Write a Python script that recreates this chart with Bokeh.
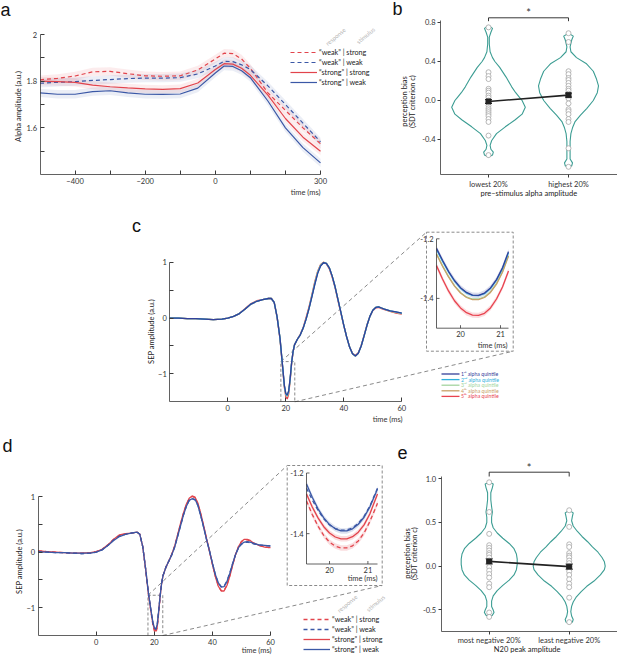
import math
from bokeh.plotting import figure
from bokeh.models import (Range1d, LinearAxis, FixedTicker, Label, Legend, LegendItem,
                          Whisker, TeeHead, ColumnDataSource)
from bokeh.layouts import column, row
from bokeh.core.properties import value
from bokeh.embed import file_html
from bokeh.resources import INLINE

# ======================= DATA =======================
# (a) alpha amplitude time courses
a_time = [-500, -450, -400, -350, -300, -250, -200, -150, -100, -50, 0, 25, 50, 75, 100, 150, 200, 250, 300]
a_weak_strong   = [1.806, 1.812, 1.822, 1.840, 1.842, 1.832, 1.823, 1.821, 1.823, 1.848, 1.895, 1.920, 1.918, 1.895, 1.855, 1.750, 1.675, 1.600, 1.532]
a_weak_weak     = [1.791, 1.795, 1.798, 1.803, 1.807, 1.811, 1.813, 1.813, 1.815, 1.831, 1.865, 1.885, 1.884, 1.870, 1.850, 1.780, 1.700, 1.620, 1.540]
a_strong_strong = [1.800, 1.798, 1.795, 1.783, 1.776, 1.771, 1.767, 1.765, 1.768, 1.792, 1.850, 1.875, 1.873, 1.855, 1.825, 1.740, 1.640, 1.560, 1.500]
a_strong_weak   = [1.750, 1.744, 1.744, 1.755, 1.759, 1.750, 1.744, 1.743, 1.745, 1.770, 1.835, 1.865, 1.863, 1.845, 1.815, 1.715, 1.600, 1.515, 1.450]
a_sem = 0.018
a_xticks = [-400, -200, 0, 300]
a_xminor = [-300, -100, 100, 200]
a_yticks = [1.6, 1.8, 2.0]
a_ytick_labels = ["1.6", "1.8", "2"]
a_yminor = [1.5, 1.7, 1.9]
legend_labels = ["\u201cweak\u201d | strong", "\u201cweak\u201d | weak", "\u201cstrong\u201d | strong", "\u201cstrong\u201d | weak"]

# (b) perception bias by pre-stimulus alpha
b_categories = ["lowest 20%", "highest 20%"]
b_low_points = [0.75, 0.29, 0.25, 0.22, 0.12, 0.10, 0.08, 0.05, 0.03, 0.0, -0.05, -0.08, -0.10, -0.12, -0.14, -0.16, -0.19, -0.22, -0.36, -0.56]
b_high_points = [0.69, 0.60, 0.30, 0.27, 0.23, 0.21, 0.18, 0.15, 0.12, 0.10, 0.07, 0.04, 0.02, -0.03, -0.09, -0.11, -0.14, -0.19, -0.22, -0.49, -0.68]
b_means = [-0.01, 0.055]
b_err = [0.02, 0.02]
b_vlow_y = [-0.58, -0.56, -0.53, -0.50, -0.46, -0.41, -0.34, -0.27, -0.20, -0.14, -0.07, 0.0, 0.03, 0.08, 0.14, 0.24, 0.34, 0.40, 0.44, 0.50, 0.58, 0.65, 0.70, 0.74, 0.77]
b_vlow_w = [0.0, 0.05, 0.06, 0.03, 0.02, 0.04, 0.10, 0.21, 0.33, 0.42, 0.46, 0.42, 0.39, 0.34, 0.29, 0.22, 0.14, 0.08, 0.05, 0.02, 0.01, 0.01, 0.03, 0.05, 0.0]
b_vhigh_y = [-0.69, -0.67, -0.64, -0.60, -0.52, -0.42, -0.34, -0.28, -0.22, -0.15, -0.08, 0.0, 0.08, 0.15, 0.22, 0.30, 0.38, 0.44, 0.50, 0.55, 0.62, 0.66, 0.69]
b_vhigh_w = [0.0, 0.04, 0.05, 0.02, 0.02, 0.02, 0.03, 0.05, 0.08, 0.15, 0.23, 0.31, 0.36, 0.375, 0.35, 0.31, 0.22, 0.10, 0.03, 0.02, 0.04, 0.06, 0.0]
b_yticks = [-0.4, 0.0, 0.4, 0.8]
b_ytick_labels = ["-0.4", "0.0", "0.4", "0.8"]

# (c) SEP by alpha quintile
sep_time = [-20, -17, -14, -11, -8, -5, -2, 0, 2, 4, 6, 8, 10, 12, 14, 15, 16, 17, 18, 19,
            19.5, 20, 20.5, 21, 21.5, 22, 22.5, 23, 24, 25, 26, 27, 28, 29, 30, 31, 32, 33, 34, 35,
            36, 37, 38, 39, 40, 41, 42, 43, 44, 45, 46, 47, 48, 49, 50, 51, 52, 53, 54, 56, 58, 60]
c_q1 = [0.00, 0.00, -0.01, -0.01, -0.02, -0.03, -0.02, 0.00, 0.03, 0.08, 0.16, 0.25, 0.30, 0.33, 0.35, 0.35, 0.28, 0.02, -0.36, -0.92,
        -1.20, -1.35, -1.38, -1.30, -1.08, -0.80, -0.60, -0.48, -0.38, -0.30, -0.18, -0.02, 0.17, 0.38, 0.60, 0.80, 0.93, 0.99, 0.98, 0.90,
        0.75, 0.56, 0.33, 0.10, -0.13, -0.34, -0.52, -0.64, -0.68, -0.63, -0.50, -0.32, -0.13, 0.03, 0.14, 0.19, 0.20, 0.18, 0.16, 0.13, 0.11, 0.09]
c_q2 = [0.00, 0.00, -0.01, -0.01, -0.02, -0.03, -0.02, 0.00, 0.03, 0.08, 0.16, 0.25, 0.30, 0.33, 0.35, 0.35, 0.28, 0.02, -0.36, -0.92,
        -1.21, -1.36, -1.39, -1.31, -1.09, -0.80, -0.60, -0.48, -0.38, -0.30, -0.18, -0.02, 0.17, 0.39, 0.61, 0.81, 0.94, 0.99, 0.98, 0.90,
        0.75, 0.56, 0.33, 0.10, -0.13, -0.34, -0.52, -0.64, -0.68, -0.63, -0.50, -0.32, -0.13, 0.03, 0.14, 0.19, 0.20, 0.18, 0.16, 0.13, 0.11, 0.09]
c_q3 = [0.00, 0.00, -0.01, -0.01, -0.02, -0.03, -0.02, 0.00, 0.03, 0.08, 0.16, 0.25, 0.30, 0.33, 0.35, 0.35, 0.28, 0.02, -0.36, -0.93,
        -1.22, -1.37, -1.40, -1.32, -1.10, -0.81, -0.60, -0.48, -0.38, -0.30, -0.18, -0.02, 0.17, 0.39, 0.62, 0.82, 0.94, 0.99, 0.98, 0.90,
        0.75, 0.56, 0.33, 0.10, -0.13, -0.34, -0.52, -0.64, -0.68, -0.63, -0.50, -0.32, -0.13, 0.03, 0.14, 0.19, 0.20, 0.18, 0.16, 0.13, 0.10, 0.08]
c_q4 = [0.00, 0.00, -0.01, -0.01, -0.02, -0.03, -0.02, 0.00, 0.03, 0.08, 0.16, 0.25, 0.30, 0.33, 0.35, 0.35, 0.28, 0.02, -0.36, -0.93,
        -1.22, -1.37, -1.40, -1.32, -1.10, -0.81, -0.60, -0.48, -0.38, -0.30, -0.18, -0.01, 0.18, 0.40, 0.63, 0.83, 0.95, 1.00, 0.98, 0.90,
        0.75, 0.56, 0.33, 0.10, -0.13, -0.34, -0.52, -0.64, -0.68, -0.63, -0.50, -0.32, -0.13, 0.03, 0.14, 0.19, 0.20, 0.18, 0.16, 0.12, 0.10, 0.08]
c_q5 = [0.00, 0.00, -0.01, -0.01, -0.02, -0.03, -0.02, 0.00, 0.03, 0.08, 0.17, 0.26, 0.31, 0.33, 0.35, 0.35, 0.28, 0.01, -0.38, -0.95,
        -1.24, -1.41, -1.45, -1.36, -1.12, -0.82, -0.61, -0.48, -0.38, -0.29, -0.17, 0.01, 0.20, 0.42, 0.65, 0.84, 0.96, 1.00, 0.97, 0.88,
        0.73, 0.54, 0.31, 0.09, -0.14, -0.34, -0.52, -0.63, -0.67, -0.62, -0.49, -0.31, -0.12, 0.03, 0.13, 0.18, 0.19, 0.17, 0.15, 0.12, 0.09, 0.07]
c_labels = ["1\u02e2\u1d57 alpha quintile", "2\u207f\u1d48 alpha quintile", "3\u02b3\u1d48 alpha quintile",
            "4\u1d57\u02b0 alpha quintile", "5\u1d57\u02b0 alpha quintile"]
c_inset_time = [19.4, 19.55, 19.7, 19.85, 20.0, 20.15, 20.3, 20.45, 20.6, 20.75, 20.9, 21.05, 21.2]
c_in_q1 = [-1.232, -1.272, -1.309, -1.340, -1.364, -1.380, -1.389, -1.390, -1.382, -1.365, -1.337, -1.297, -1.243]
c_in_q2 = [-1.236, -1.275, -1.311, -1.342, -1.366, -1.382, -1.390, -1.391, -1.384, -1.367, -1.339, -1.300, -1.247]
c_in_q3 = [-1.250, -1.290, -1.326, -1.357, -1.380, -1.395, -1.402, -1.402, -1.395, -1.378, -1.350, -1.310, -1.256]
c_in_q4 = [-1.252, -1.292, -1.328, -1.359, -1.382, -1.397, -1.404, -1.404, -1.397, -1.380, -1.352, -1.312, -1.258]
c_in_q5 = [-1.290, -1.335, -1.375, -1.408, -1.432, -1.448, -1.456, -1.457, -1.450, -1.432, -1.402, -1.362, -1.308]
inset_sem = 0.009
sep_yticks = [-1, 0, 1]
sep_yminor = [-0.5, 0.5]
sep_xticks = [0, 20, 40, 60]
inset_yticks = [-1.2, -1.4]
inset_xticks = [20, 21]
c_zoom_window = [18.3, 23.1, -1.5, -0.78]

# (d) SEP by response | stimulus
d_weak_strong = [0.02, 0.01, 0.00, -0.01, -0.02, -0.02, -0.01, 0.01, 0.05, 0.13, 0.23, 0.30, 0.33, 0.34, 0.36, 0.32, 0.10, -0.31, -0.78, -1.14,
                 -1.31, -1.42, -1.45, -1.36, -1.09, -0.80, -0.57, -0.42, -0.27, -0.16, -0.04, 0.11, 0.30, 0.50, 0.69, 0.85, 0.96, 1.00, 0.98, 0.87,
                 0.68, 0.46, 0.23, 0.01, -0.22, -0.43, -0.60, -0.69, -0.69, -0.59, -0.42, -0.22, -0.04, 0.10, 0.19, 0.22, 0.22, 0.20, 0.16, 0.12, 0.09, 0.08]
d_weak_weak = [0.01, 0.00, -0.01, -0.01, -0.02, -0.03, -0.02, 0.00, 0.04, 0.12, 0.22, 0.29, 0.32, 0.34, 0.36, 0.32, 0.10, -0.30, -0.75, -1.11,
               -1.27, -1.36, -1.39, -1.30, -1.05, -0.78, -0.56, -0.42, -0.27, -0.16, -0.05, 0.09, 0.28, 0.47, 0.66, 0.82, 0.93, 0.96, 0.94, 0.84,
               0.65, 0.44, 0.22, 0.02, -0.20, -0.40, -0.55, -0.62, -0.61, -0.52, -0.37, -0.20, -0.04, 0.08, 0.14, 0.17, 0.18, 0.17, 0.15, 0.13, 0.12, 0.11]
d_strong_strong = [0.02, 0.01, 0.00, -0.01, -0.02, -0.02, -0.01, 0.01, 0.05, 0.13, 0.23, 0.31, 0.33, 0.34, 0.36, 0.32, 0.10, -0.31, -0.77, -1.12,
                   -1.29, -1.39, -1.42, -1.33, -1.07, -0.79, -0.57, -0.42, -0.27, -0.16, -0.04, 0.11, 0.31, 0.51, 0.70, 0.86, 0.97, 1.01, 0.99, 0.88,
                   0.69, 0.47, 0.24, 0.02, -0.22, -0.44, -0.61, -0.70, -0.70, -0.60, -0.43, -0.23, -0.04, 0.10, 0.19, 0.23, 0.23, 0.21, 0.17, 0.12, 0.09, 0.08]
d_strong_weak = [0.00, 0.00, -0.01, -0.01, -0.02, -0.02, -0.02, 0.00, 0.04, 0.12, 0.21, 0.28, 0.32, 0.34, 0.36, 0.32, 0.10, -0.30, -0.75, -1.10,
                 -1.26, -1.36, -1.39, -1.30, -1.05, -0.78, -0.56, -0.42, -0.27, -0.16, -0.05, 0.09, 0.28, 0.47, 0.66, 0.82, 0.93, 0.96, 0.95, 0.84,
                 0.65, 0.44, 0.22, 0.02, -0.20, -0.40, -0.55, -0.63, -0.62, -0.53, -0.38, -0.20, -0.04, 0.08, 0.15, 0.18, 0.19, 0.18, 0.16, 0.13, 0.12, 0.11]
d_inset_time = [19.4, 19.55, 19.7, 19.85, 20.0, 20.15, 20.3, 20.45, 20.6, 20.75, 20.9, 21.05, 21.25]
d_in_weak_strong = [-1.292, -1.337, -1.375, -1.406, -1.428, -1.441, -1.447, -1.447, -1.440, -1.424, -1.398, -1.360, -1.300]
d_in_weak_weak = [-1.250, -1.289, -1.323, -1.351, -1.371, -1.383, -1.388, -1.388, -1.381, -1.366, -1.343, -1.309, -1.250]
d_in_strong_strong = [-1.269, -1.312, -1.348, -1.377, -1.398, -1.411, -1.417, -1.417, -1.410, -1.395, -1.371, -1.335, -1.269]
d_in_strong_weak = [-1.236, -1.280, -1.318, -1.348, -1.370, -1.384, -1.391, -1.391, -1.384, -1.369, -1.346, -1.312, -1.253]
d_zoom_window = [17.8, 22.9, -1.5, -0.776]

# (e) perception bias by N20 amplitude
e_categories = ["most negative 20%", "least negative 20%"]
e_most_points = [0.96, 0.62, 0.37, 0.24, 0.21, 0.18, 0.15, 0.13, 0.10, 0.065, 0.03, -0.01, -0.05, -0.09, -0.13, -0.20, -0.24, -0.53, -0.58]
e_least_points = [0.64, 0.45, 0.25, 0.22, 0.15, 0.12, 0.10, 0.065, 0.035, 0.0, -0.03, -0.06, -0.10, -0.15, -0.20, -0.24, -0.36, -0.64]
e_means = [0.055, -0.005]
e_err = [0.03, 0.03]
e_vmost_y = [-0.58, -0.56, -0.53, -0.50, -0.46, -0.40, -0.34, -0.28, -0.22, -0.16, -0.10, -0.04, 0.02, 0.08, 0.14, 0.20, 0.26, 0.32, 0.38, 0.44, 0.50, 0.56, 0.62, 0.68, 0.76, 0.84, 0.90, 0.94, 0.96]
e_vmost_w = [0.0, 0.04, 0.06, 0.05, 0.03, 0.03, 0.05, 0.10, 0.17, 0.25, 0.31, 0.34, 0.35, 0.35, 0.34, 0.31, 0.25, 0.17, 0.10, 0.05, 0.03, 0.03, 0.04, 0.03, 0.02, 0.02, 0.04, 0.05, 0.0]
e_vleast_y = [-0.66, -0.64, -0.61, -0.57, -0.52, -0.46, -0.41, -0.35, -0.29, -0.23, -0.17, -0.10, -0.04, 0.0, 0.05, 0.10, 0.16, 0.22, 0.28, 0.34, 0.40, 0.46, 0.52, 0.57, 0.61, 0.64]
e_vleast_w = [0.0, 0.04, 0.05, 0.03, 0.02, 0.03, 0.05, 0.09, 0.15, 0.22, 0.31, 0.39, 0.44, 0.45, 0.44, 0.41, 0.36, 0.29, 0.23, 0.16, 0.10, 0.05, 0.03, 0.04, 0.05, 0.0]
e_yticks = [-0.5, 0.0, 0.5, 1.0]
e_ytick_labels = ["-0.5", "0.0", "0.5", "1.0"]

# ======================= STYLE =======================
S = 1.0
FONT = "Lato"
LFONT = "Liberation Sans"
RED = "#e2444c"
BLUE = "#3b58a6"
TEAL = "#3c9d93"
AXC = "#3a3a3a"
TXT = "#333333"
DGRAY = "#8a8a8a"
Q_COLORS = ["#33409a", "#2eb0dc", "#a3d4a0", "#c8a067", "#e8434f"]


class Panel:
    """Figure whose frame fills the canvas; 'box' = reference-pixel plot box that maps to xr/yr."""
    def __init__(self, canvas, box, xr, yr):
        cx0, cy0, cx1, cy1 = canvas
        fx0, fy0, fx1, fy1 = box
        self.canvas, self.box, self.xr, self.yr = canvas, box, xr, yr
        self.kx = (xr[1] - xr[0]) / (fx1 - fx0)
        self.ky = (yr[1] - yr[0]) / (fy1 - fy0)
        X0 = xr[0] - (fx0 - cx0) * self.kx
        X1 = xr[1] + (cx1 - fx1) * self.kx
        Y0 = yr[0] - (cy1 - fy1) * self.ky
        Y1 = yr[1] + (fy0 - cy0) * self.ky
        self.W = round((cx1 - cx0) * S)
        self.H = round((cy1 - cy0) * S)
        self.p = figure(width=self.W, height=self.H,
                        x_range=Range1d(X0, X1), y_range=Range1d(Y0, Y1),
                        x_axis_type=None, y_axis_type=None,
                        output_backend="svg", toolbar_location=None,
                        min_border_left=0, min_border_right=0, min_border_top=0, min_border_bottom=0)
        self.p.outline_line_color = None
        self.p.background_fill_color = "white"
        self.p.border_fill_color = "white"

    def dx(self, px):
        return self.xr[0] + (px - self.box[0]) * self.kx

    def dy(self, py):
        return self.yr[0] + (self.box[3] - py) * self.ky

    def label_d(self, xd, yd, text, size="7.5px", color=TXT, align="center", angle=0.0, font=FONT,
                baseline="middle"):
        self.p.add_layout(Label(x=xd, y=yd, text=text, text_font_size=size,
                                text_color=color, text_align=align, text_baseline=baseline,
                                angle=angle, text_font=font))

    def label(self, px, py, text, **kw):
        self.label_d(self.dx(px), self.dy(py), text, **kw)


def axis(P, side, ticks, minor=None, labels=None, tin=0, tout=3, standoff=3):
    ax = LinearAxis(ticker=FixedTicker(ticks=list(ticks), minor_ticks=list(minor or [])))
    if side == "left":
        ax.fixed_location = P.xr[0]
        ax.bounds = tuple(P.yr)
    else:
        ax.fixed_location = P.yr[0]
        ax.bounds = tuple(P.xr)
    ax.axis_line_color = AXC
    ax.axis_line_width = 0.8
    ax.major_tick_line_color = AXC
    ax.minor_tick_line_color = AXC
    ax.major_tick_in = tin
    ax.major_tick_out = tout
    ax.minor_tick_in = tin
    ax.minor_tick_out = tout
    ax.major_label_text_font_size = "7.5px"
    ax.major_label_text_font = FONT
    ax.major_label_text_color = TXT
    ax.major_label_standoff = standoff
    if labels:
        ax.major_label_overrides = {t: l for t, l in zip(ticks, labels)}
    P.p.add_layout(ax, side)
    return ax


def legend(P, renderers, labels, left_ref, first_center_ref, item_ref=10, glyph_ref=27):
    cx0, cy0, cx1, cy1 = P.canvas
    ih = round(item_ref * S)
    top = (first_center_ref - cy0) * S - ih / 2
    vy = P.H - top - len(labels) * ih
    vx = (left_ref - cx0) * S
    leg = Legend(items=[LegendItem(label=l, renderers=[r]) for l, r in zip(labels, renderers)],
                 location=(vx, vy), orientation="vertical", background_fill_alpha=0,
                 border_line_alpha=0, padding=0, margin=0, spacing=0,
                 glyph_width=round(glyph_ref * S), glyph_height=ih, label_height=ih,
                 label_standoff=2, label_text_font_size="7.2px", label_text_font=FONT,
                 label_text_color="#222222")
    P.p.add_layout(leg)


def violin(p, center, ys, ws):
    xs = [center + w for w in ws] + [center - w for w in ws[::-1]]
    yy = list(ys) + list(ys[::-1])
    p.patch(xs, yy, fill_color=None, line_color=TEAL, line_width=1.1, line_join="round")


def bias_panel(P, cats, pts1, pts2, means, errs, v1, v2, yticks, ylabels, bracket_ref, ylab_ref, xlab_ref, xlabel):
    p = P.p
    violin(p, 1, *v1)
    violin(p, 2, *v2)
    p.scatter([1] * len(pts1), pts1, marker="circle", size=5, fill_color="white",
              line_color="#a6a6a6", line_width=0.8)
    p.scatter([2] * len(pts2), pts2, marker="circle", size=5, fill_color="white",
              line_color="#a6a6a6", line_width=0.8)
    p.line([1, 2], means, line_color="#222222", line_width=1.6)
    src = ColumnDataSource(dict(x=[1, 2], lo=[m - e for m, e in zip(means, errs)],
                                hi=[m + e for m, e in zip(means, errs)]))
    p.add_layout(Whisker(base="x", lower="lo", upper="hi", source=src, line_color="#222222",
                         line_width=1.2, upper_head=TeeHead(size=7, line_color="#222222", line_width=1.2),
                         lower_head=TeeHead(size=7, line_color="#222222", line_width=1.2)))
    p.scatter([1, 2], means, marker="square", size=5, color="#222222")
    ytop, ybot, ystar = bracket_ref
    p.line([1, 1, 2, 2], [P.dy(ybot), P.dy(ytop), P.dy(ytop), P.dy(ybot)], line_color="#222222", line_width=0.9)
    P.label_d(1.5, P.dy(ystar), "*", size="11px", color="#333333")
    axis(P, "left", yticks, labels=ylabels, tout=3, standoff=2)
    axis(P, "below", [1, 2], labels=cats, tout=3, standoff=2)
    (x1, x2, yc) = ylab_ref
    P.label(x1, yc, "perception bias", size="7.5px", angle=math.pi / 2, color="#222222")
    P.label(x2, yc, "(SDT criterion c)", size="7.5px", angle=math.pi / 2, color="#222222")
    P.label(xlab_ref[0], xlab_ref[1], xlabel, size="7.5px", color="#222222")


def sep_inset(P, box_ref, axes_ref, xsrc, ysrc, series, band_idx, tlabel_ref):
    """series: list of (time, values, color, dash)"""
    p = P.p
    ax0, ay0, ax1, ay1 = axes_ref   # left, top, right, bottom (reference px)
    sub = p.subplot(x_source=Range1d(*xsrc), y_source=Range1d(*ysrc),
                    x_target=Range1d(P.dx(ax0), P.dx(ax1)), y_target=Range1d(P.dy(ay1), P.dy(ay0)))
    for i, (t, v, col, dash) in enumerate(series):
        if i in band_idx:
            sub.varea(x=t, y1=[y - inset_sem for y in v], y2=[y + inset_sem for y in v],
                      fill_color=col, fill_alpha=0.18)
    for t, v, col, dash in series:
        sub.line(t, v, line_color=col, line_width=1.3, line_dash=dash)
    sub.line([xsrc[0], xsrc[0], xsrc[1]], [ysrc[1], ysrc[0], ysrc[0]], line_color=AXC, line_width=0.8)
    sub.ray(x=[xsrc[0]] * len(inset_yticks), y=inset_yticks, length=3, length_units="screen",
            angle=0, line_color=AXC, line_width=0.8)
    sub.ray(x=inset_xticks, y=[ysrc[0]] * len(inset_xticks), length=3, length_units="screen",
            angle=math.pi / 2, line_color=AXC, line_width=0.8)
    sub.text(x=[xsrc[0]] * len(inset_yticks), y=inset_yticks, text=[f"{v:.1f}" for v in inset_yticks],
             x_offset=-3, text_align="right", text_baseline="middle", text_font=value(FONT),
             text_font_size=value("7.5px"), text_color=TXT)
    sub.text(x=inset_xticks, y=[ysrc[0]] * len(inset_xticks), text=[str(v) for v in inset_xticks],
             y_offset=3, text_align="center", text_baseline="top", text_font=value(FONT),
             text_font_size=value("7.5px"), text_color=TXT)
    P.label(tlabel_ref[0], tlabel_ref[1], "time (ms)", align="right")
    bx0, by0, bx1, by1 = box_ref
    p.line([P.dx(bx0), P.dx(bx1), P.dx(bx1), P.dx(bx0), P.dx(bx0)],
           [P.dy(by0), P.dy(by0), P.dy(by1), P.dy(by1), P.dy(by0)],
           line_color=DGRAY, line_width=1, line_dash="3 2")


def zoom_links(P, win, box_ref):
    p = P.p
    t0, t1, v0, v1 = win
    bx0, by0, bx1, by1 = box_ref
    p.line([t0, t0, t1, t1], [v0, v1, v1, v0], line_color=DGRAY, line_width=1, line_dash="3 2")
    p.segment(x0=[t0, t1], y0=[v1, v0], x1=[P.dx(bx0), P.dx(bx1)], y1=[P.dy(by0), P.dy(by1)],
              line_color=DGRAY, line_width=1, line_dash="4 3")


# ======================= PANEL A =======================
A = Panel((0, 0, 388, 205), (39.5, 34, 320, 174), (-500, 300), (1.4, 2.0))
pa = A.p
for ser, col in [(a_weak_strong, RED), (a_strong_strong, RED), (a_weak_weak, BLUE), (a_strong_weak, BLUE)]:
    pa.varea(x=a_time, y1=[v - a_sem for v in ser], y2=[v + a_sem for v in ser], fill_color=col, fill_alpha=0.1)
ra1 = pa.line(a_time, a_weak_strong, line_color=RED, line_width=1.2, line_dash="4 3")
ra2 = pa.line(a_time, a_weak_weak, line_color=BLUE, line_width=1.2, line_dash="4 3")
ra3 = pa.line(a_time, a_strong_strong, line_color=RED, line_width=1.2)
ra4 = pa.line(a_time, a_strong_weak, line_color=BLUE, line_width=1.2)
axis(A, "left", a_yticks, minor=a_yminor, labels=a_ytick_labels, tin=4, tout=0)
axis(A, "below", a_xticks, minor=a_xminor, tin=4, tout=0)
A.label(18, 106, "Alpha amplitude (a.u.)", size="7.5px", angle=math.pi / 2, color="#222222")
A.label(320, 192, "time (ms)", align="right")
A.label(5, 9, "a", size="18px", color="#111111", font=LFONT)
legend(A, [ra1, ra2, ra3, ra4], legend_labels, 290, 52.3)
A.label(335, 36, "response", size="6px", color="#b5b5b5", angle=0.7)
A.label(365, 35, "stimulus", size="6px", color="#b5b5b5", angle=0.7)

# ======================= PANEL B =======================
B = Panel((388, 0, 617, 205), (440, 20, 617, 174), (0.4, 2.6125), (-0.759, 0.8205))
bias_panel(B, b_categories, b_low_points, b_high_points, b_means, b_err,
           (b_vlow_y, b_vlow_w), (b_vhigh_y, b_vhigh_w), b_yticks, b_ytick_labels,
           (17.3, 20.7, 12.3), (403.5, 411.5, 101), (528.3, 192.5), "pre\u2013stimulus alpha amplitude")
B.label(397, 8, "b", size="18px", color="#111111", font=LFONT)

# ======================= PANEL C =======================
C = Panel((0, 205, 617, 428), (169.3, 261.7, 401.3, 401.3), (-20, 60), (-1.5, 1))
pc = C.p
c_box = (426, 231.7, 512.7, 350.7)
zoom_links(C, c_zoom_window, c_box)
for vals, col in zip([c_q5, c_q4, c_q3, c_q2, c_q1], Q_COLORS[::-1]):
    pc.line(sep_time, vals, line_color=col, line_width=1.3)
axis(C, "left", sep_yticks, minor=sep_yminor, tin=4, tout=0)
axis(C, "below", sep_xticks, tin=4, tout=0)
C.label(150.5, 331, "SEP amplitude (a.u.)", size="7.5px", angle=math.pi / 2, color="#222222")
C.label(402, 419, "time (ms)", align="right")
C.label(136, 225, "c", size="18px", color="#111111", font=LFONT)
sep_inset(C, c_box, (436, 238.3, 508, 327.7), (19.4, 21.2), (-1.5, -1.2),
          [(c_inset_time, c_in_q5, Q_COLORS[4], "solid"), (c_inset_time, c_in_q3, Q_COLORS[2], "solid"),
           (c_inset_time, c_in_q4, Q_COLORS[3], "solid"), (c_inset_time, c_in_q2, Q_COLORS[1], "solid"),
           (c_inset_time, c_in_q1, Q_COLORS[0], "solid")], [0, 4], (507, 345))
leg_y = [373.5, 379.1, 384.7, 390.3, 395.9]
pc.segment(x0=[C.dx(441)] * 5, x1=[C.dx(459)] * 5, y0=[C.dy(y) for y in leg_y], y1=[C.dy(y) for y in leg_y],
           line_color=Q_COLORS, line_width=1.3)
for lab, y, col in zip(c_labels, leg_y, Q_COLORS):
    C.label(460.5, y, lab, size="5.2px", color=col, align="left")

# ======================= PANEL D =======================
D = Panel((0, 428, 388, 656), (37.7, 496, 270, 635), (-20, 60), (-1.5, 1))
pd = D.p
d_box = (286.7, 465, 381.7, 585)
zoom_links(D, d_zoom_window, d_box)
rd1 = pd.line(sep_time, d_weak_strong, line_color=RED, line_width=1.3, line_dash="4 3")
rd3 = pd.line(sep_time, d_strong_strong, line_color=RED, line_width=1.3)
rd2 = pd.line(sep_time, d_weak_weak, line_color=BLUE, line_width=1.3, line_dash="4 3")
rd4 = pd.line(sep_time, d_strong_weak, line_color=BLUE, line_width=1.3)
axis(D, "left", sep_yticks, minor=sep_yminor, tin=4, tout=0)
axis(D, "below", sep_xticks, tin=4, tout=0)
D.label(19, 561, "SEP amplitude (a.u.)", size="7.5px", angle=math.pi / 2, color="#222222")
D.label(271, 650, "time (ms)", align="right")
D.label(7, 445, "d", size="18px", color="#111111", font=LFONT)
sep_inset(D, d_box, (306, 472.5, 377, 563.5), (19.4, 21.25), (-1.5, -1.2),
          [(d_inset_time, d_in_weak_strong, RED, "4 3"), (d_inset_time, d_in_strong_strong, RED, "solid"),
           (d_inset_time, d_in_weak_weak, BLUE, "4 3"), (d_inset_time, d_in_strong_weak, BLUE, "solid")],
          [0, 1, 3], (377, 578))
legend(D, [rd1, rd2, rd3, rd4], legend_labels, 303, 619)
D.label(346.7, 603, "response", size="6px", color="#b5b5b5", angle=0.7)
D.label(375, 602.7, "stimulus", size="6px", color="#b5b5b5", angle=0.7)

# ======================= PANEL E =======================
E = Panel((388, 428, 617, 656), (440.7, 476, 617, 630.7), (0.4, 2.6037), (-0.7437, 1.0263))
bias_panel(E, e_categories, e_most_points, e_least_points, e_means, e_err,
           (e_vmost_y, e_vmost_w), (e_vleast_y, e_vleast_w), e_yticks, e_ytick_labels,
           (471.7, 476, 466.7), (406.7, 414, 553), (526.7, 648.5), "N20 peak amplitude")
E.label(402, 452, "e", size="18px", color="#111111", font=LFONT)

layout = column(row(A.p, B.p), C.p, row(D.p, E.p))
open("out.html", "w").write(file_html(layout, INLINE))
